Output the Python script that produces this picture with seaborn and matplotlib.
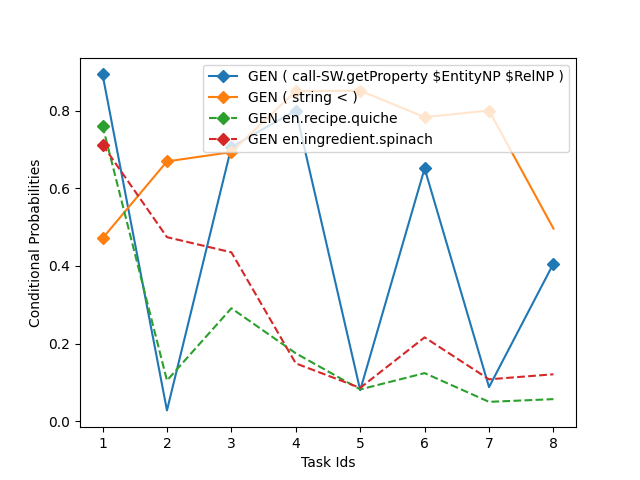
import matplotlib
matplotlib.use("Agg")
import matplotlib.pyplot as plt
import seaborn as sns
import pandas as pd

task_ids = [1, 2, 3, 4, 5, 6, 7, 8]
labels = [
    r"GEN ( call-SW.getProperty \$EntityNP \$RelNP )",
    "GEN ( string < )",
    "GEN en.recipe.quiche",
    "GEN en.ingredient.spinach",
]
blue_vals = [0.893, 0.028, 0.706, 0.800, 0.080, 0.651, 0.088, 0.406]
orange_vals = [0.471, 0.669, 0.693, 0.850, 0.851, 0.783, 0.800, 0.496]
green_vals = [0.761, 0.105, 0.291, 0.175, 0.082, 0.124, 0.050, 0.057]
red_vals = [0.712, 0.474, 0.435, 0.149, 0.086, 0.216, 0.108, 0.121]

series = [blue_vals, orange_vals, green_vals, red_vals]
colors = ["#1f77b4", "#ff7f0e", "#2ca02c", "#d62728"]
styles = ["-", "-", "--", "--"]
mark_idx = [[0, 2, 3, 5, 7], [0, 1, 2, 3, 4, 5, 6], [0], [0]]

fig, ax = plt.subplots(figsize=(6.4, 4.8), dpi=100)
for vals, lab, c, ls, mi in zip(series, labels, colors, styles, mark_idx):
    df = pd.DataFrame({"x": task_ids, "y": vals})
    sns.lineplot(data=df, x="x", y="y", ax=ax, color=c, linestyle=ls,
                 marker="D", markevery=mi, label=lab, markersize=6,
                 markeredgecolor=c, markeredgewidth=1)
ax.set_xlabel("Task Ids")
ax.set_ylabel("Conditional Probabilities")
ax.set_xticks(task_ids)
ax.legend(loc="upper right")
fig.savefig("out.png", dpi=100)
